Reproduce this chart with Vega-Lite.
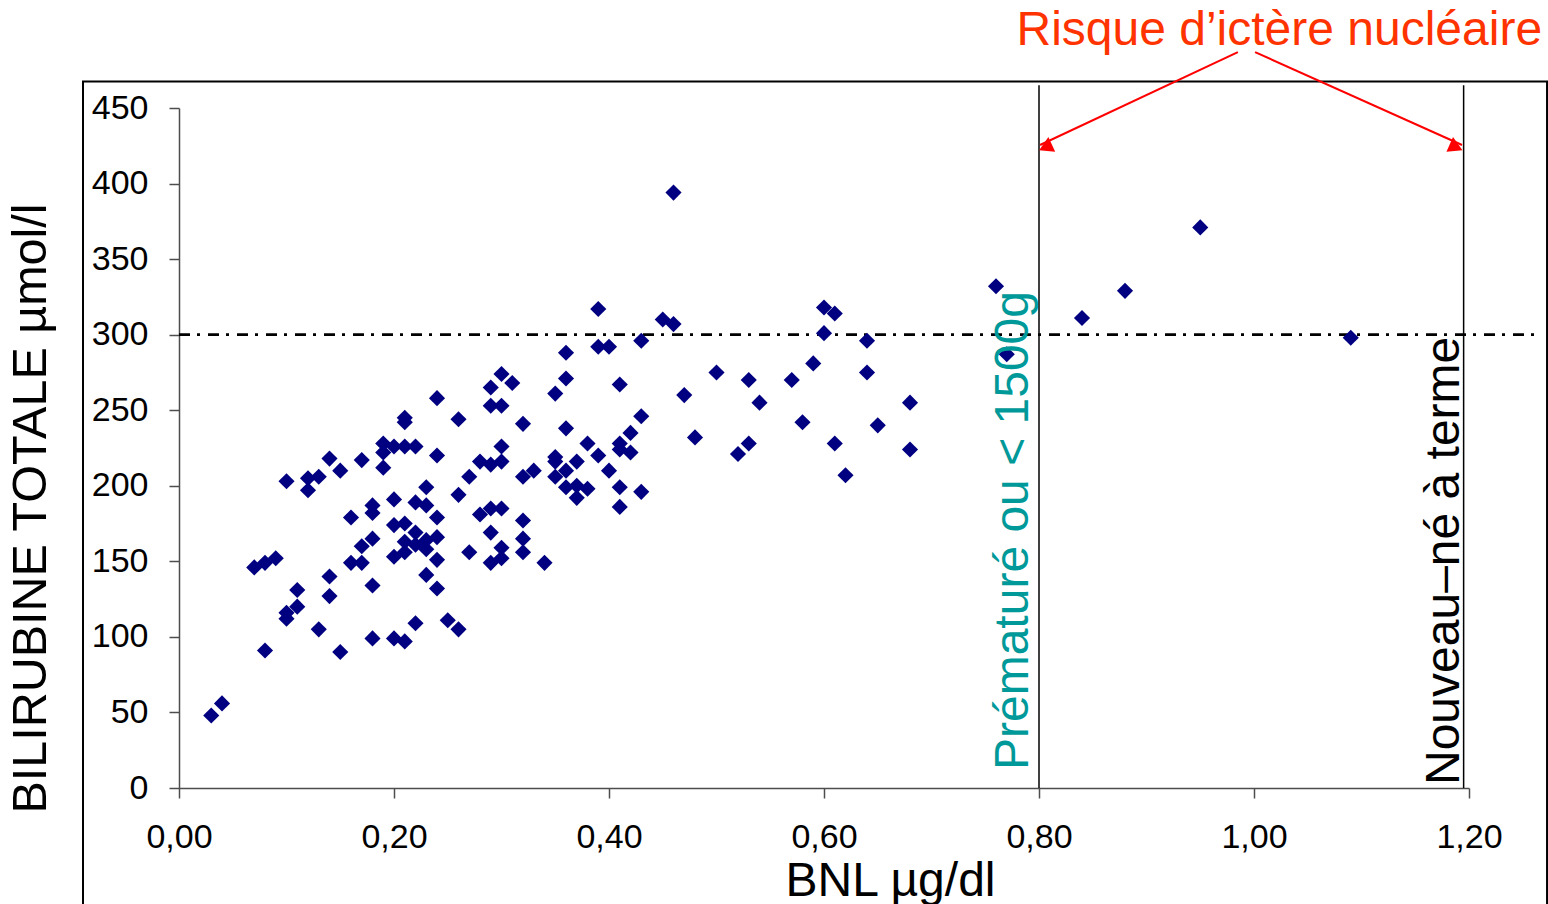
{
  "$schema": "https://vega.github.io/schema/vega-lite/v6.json",
  "width": 1290,
  "height": 680,
  "autosize": {"type": "none"},
  "padding": {"left": 179, "top": 108, "right": 79, "bottom": 116},
  "background": "white",
  "config": {"view": {"stroke": null}, "font": "Liberation Sans"},
  "datasets": {
    "frame": [{"x": -0.0893, "x2": 1.2726, "y": 467.5, "y2": -110}],
    "threshold": [{"x": 0, "x2": 1.266, "y": 300}],
    "limits": [{"x": 0.8, "y": 0, "y2": 465}, {"x": 1.195, "y": 0, "y2": 465}],
    "arrows": [
      {"x": 0.985, "y": 487, "x2": 0.801, "y2": 425.5},
      {"x": 1.001, "y": 487, "x2": 1.1935, "y2": 425.5}
    ],
    "heads": [
      {"x": 0.806, "y": 424, "a": 245},
      {"x": 1.188, "y": 424, "a": 114}
    ],
    "risk": [{"x": 1.268, "y": 492, "label": "Risque d’ictère nucléaire"}],
    "prem": [{"x": 0.8, "y": 0, "label": "Prématuré ou < 1500g"}],
    "term": [{"x": 1.195, "y": 0, "label": "Nouveau–né à terme"}],
    "points": [
      {"x": 0.03, "y": 48}, {"x": 0.04, "y": 56}, {"x": 0.07, "y": 146}, {"x": 0.08, "y": 149},
      {"x": 0.09, "y": 152}, {"x": 0.08, "y": 91}, {"x": 0.10, "y": 203}, {"x": 0.10, "y": 116},
      {"x": 0.10, "y": 112}, {"x": 0.11, "y": 120}, {"x": 0.11, "y": 131}, {"x": 0.12, "y": 205},
      {"x": 0.12, "y": 197}, {"x": 0.13, "y": 206}, {"x": 0.13, "y": 105}, {"x": 0.14, "y": 218},
      {"x": 0.14, "y": 140}, {"x": 0.14, "y": 127}, {"x": 0.15, "y": 210}, {"x": 0.15, "y": 90},
      {"x": 0.16, "y": 179}, {"x": 0.16, "y": 149}, {"x": 0.17, "y": 217}, {"x": 0.17, "y": 160},
      {"x": 0.17, "y": 149}, {"x": 0.18, "y": 187}, {"x": 0.18, "y": 182}, {"x": 0.18, "y": 165},
      {"x": 0.18, "y": 134}, {"x": 0.18, "y": 99}, {"x": 0.19, "y": 228}, {"x": 0.19, "y": 222},
      {"x": 0.19, "y": 212}, {"x": 0.20, "y": 226}, {"x": 0.20, "y": 191}, {"x": 0.20, "y": 174},
      {"x": 0.20, "y": 153}, {"x": 0.20, "y": 99}, {"x": 0.21, "y": 245}, {"x": 0.21, "y": 242},
      {"x": 0.21, "y": 226}, {"x": 0.21, "y": 175}, {"x": 0.21, "y": 163}, {"x": 0.21, "y": 156},
      {"x": 0.21, "y": 97}, {"x": 0.22, "y": 226}, {"x": 0.22, "y": 189}, {"x": 0.22, "y": 169},
      {"x": 0.22, "y": 161}, {"x": 0.22, "y": 109}, {"x": 0.23, "y": 199}, {"x": 0.23, "y": 187},
      {"x": 0.23, "y": 164}, {"x": 0.23, "y": 158}, {"x": 0.23, "y": 141}, {"x": 0.24, "y": 258},
      {"x": 0.24, "y": 220}, {"x": 0.24, "y": 179}, {"x": 0.24, "y": 166}, {"x": 0.24, "y": 151},
      {"x": 0.24, "y": 132}, {"x": 0.25, "y": 111}, {"x": 0.26, "y": 244}, {"x": 0.26, "y": 194},
      {"x": 0.26, "y": 105}, {"x": 0.27, "y": 206}, {"x": 0.27, "y": 156}, {"x": 0.28, "y": 216},
      {"x": 0.28, "y": 181}, {"x": 0.29, "y": 265}, {"x": 0.29, "y": 253}, {"x": 0.29, "y": 214},
      {"x": 0.29, "y": 185}, {"x": 0.29, "y": 169}, {"x": 0.29, "y": 149}, {"x": 0.30, "y": 274},
      {"x": 0.30, "y": 253}, {"x": 0.30, "y": 226}, {"x": 0.30, "y": 216}, {"x": 0.30, "y": 185},
      {"x": 0.30, "y": 159}, {"x": 0.30, "y": 152}, {"x": 0.31, "y": 268}, {"x": 0.32, "y": 241},
      {"x": 0.32, "y": 206}, {"x": 0.32, "y": 177}, {"x": 0.32, "y": 165}, {"x": 0.32, "y": 156},
      {"x": 0.33, "y": 210}, {"x": 0.34, "y": 149}, {"x": 0.35, "y": 261}, {"x": 0.35, "y": 219},
      {"x": 0.35, "y": 216}, {"x": 0.35, "y": 206}, {"x": 0.36, "y": 288}, {"x": 0.36, "y": 271},
      {"x": 0.36, "y": 238}, {"x": 0.36, "y": 210}, {"x": 0.36, "y": 199}, {"x": 0.37, "y": 216},
      {"x": 0.37, "y": 200}, {"x": 0.37, "y": 192}, {"x": 0.38, "y": 228}, {"x": 0.38, "y": 198},
      {"x": 0.39, "y": 317}, {"x": 0.39, "y": 292}, {"x": 0.39, "y": 220}, {"x": 0.40, "y": 292},
      {"x": 0.40, "y": 210}, {"x": 0.41, "y": 267}, {"x": 0.41, "y": 228}, {"x": 0.41, "y": 224},
      {"x": 0.41, "y": 199}, {"x": 0.41, "y": 186}, {"x": 0.42, "y": 235}, {"x": 0.42, "y": 222},
      {"x": 0.43, "y": 296}, {"x": 0.43, "y": 246}, {"x": 0.43, "y": 196}, {"x": 0.45, "y": 310},
      {"x": 0.46, "y": 394}, {"x": 0.46, "y": 307}, {"x": 0.47, "y": 260}, {"x": 0.48, "y": 232},
      {"x": 0.50, "y": 275}, {"x": 0.52, "y": 221}, {"x": 0.53, "y": 270}, {"x": 0.53, "y": 228},
      {"x": 0.54, "y": 255}, {"x": 0.57, "y": 270}, {"x": 0.58, "y": 242}, {"x": 0.59, "y": 281},
      {"x": 0.60, "y": 318}, {"x": 0.60, "y": 301}, {"x": 0.61, "y": 314}, {"x": 0.61, "y": 228},
      {"x": 0.62, "y": 207}, {"x": 0.64, "y": 296}, {"x": 0.64, "y": 275}, {"x": 0.65, "y": 240},
      {"x": 0.68, "y": 255}, {"x": 0.68, "y": 224}, {"x": 0.76, "y": 332}, {"x": 0.77, "y": 287},
      {"x": 0.84, "y": 311}, {"x": 0.88, "y": 329}, {"x": 0.95, "y": 371}, {"x": 1.09, "y": 298}
    ]
  },
  "encoding": {
    "x": {
      "field": "x",
      "type": "quantitative",
      "scale": {"domain": [0, 1.2], "nice": false, "zero": false},
      "axis": {
        "title": "BNL µg/dl",
        "values": [0, 0.2, 0.4, 0.6, 0.8, 1.0, 1.2],
        "labelExpr": "replace(format(datum.value, '.2f'), '.', ',')",
        "labelFontSize": 34,
        "labelColor": "black",
        "labelPadding": 22,
        "labelFlush": false,
        "labelOverlap": false,
        "tickSize": 10,
        "tickColor": "#4d4d4d",
        "tickWidth": 1.5,
        "domainColor": "#4d4d4d",
        "domainWidth": 1.5,
        "grid": false,
        "titleFontSize": 48,
        "titleFontWeight": "normal",
        "titleColor": "black",
        "titleX": 711,
        "titleY": 107,
        "titleAlign": "center",
        "titleBaseline": "alphabetic"
      }
    },
    "y": {
      "field": "y",
      "type": "quantitative",
      "scale": {"domain": [0, 450], "nice": false},
      "axis": {
        "title": "BILIRUBINE TOTALE µmol/l",
        "values": [0, 50, 100, 150, 200, 250, 300, 350, 400, 450],
        "labelFontSize": 34,
        "labelColor": "black",
        "labelPadding": 21,
        "labelFlush": false,
        "labelOverlap": false,
        "tickSize": 10,
        "tickColor": "#4d4d4d",
        "tickWidth": 1.5,
        "domainColor": "#4d4d4d",
        "domainWidth": 1.5,
        "grid": false,
        "titleFontSize": 48.5,
        "titleFontWeight": "normal",
        "titleColor": "black",
        "titleAngle": 270,
        "titleX": -134,
        "titleY": 400,
        "titleAlign": "center",
        "titleBaseline": "alphabetic"
      }
    }
  },
  "layer": [
    {
      "data": {"name": "frame"},
      "mark": {"type": "rect", "filled": false, "stroke": "black", "strokeWidth": 2},
      "encoding": {"x2": {"field": "x2"}, "y2": {"field": "y2"}}
    },
    {
      "data": {"name": "threshold"},
      "mark": {"type": "rule", "color": "black", "strokeWidth": 2.6, "strokeDash": [11, 7, 3, 8]},
      "encoding": {"x2": {"field": "x2"}}
    },
    {
      "data": {"name": "limits"},
      "mark": {"type": "rule", "color": "black", "strokeWidth": 1.5},
      "encoding": {"y2": {"field": "y2"}}
    },
    {
      "data": {"name": "points"},
      "mark": {"type": "point", "shape": "diamond", "filled": true, "color": "#000080", "size": 260, "opacity": 1}
    },
    {
      "data": {"name": "arrows"},
      "mark": {"type": "rule", "color": "#FF0000", "strokeWidth": 2},
      "encoding": {"x2": {"field": "x2"}, "y2": {"field": "y2"}}
    },
    {
      "data": {"name": "heads"},
      "mark": {"type": "point", "shape": "triangle-up", "filled": true, "color": "#FF0000", "size": 260, "opacity": 1},
      "encoding": {"angle": {"field": "a", "type": "quantitative", "scale": null}}
    },
    {
      "data": {"name": "risk"},
      "mark": {"type": "text", "align": "right", "baseline": "alphabetic", "fontSize": 48, "color": "#FF3300"},
      "encoding": {"text": {"field": "label"}}
    },
    {
      "data": {"name": "prem"},
      "mark": {"type": "text", "align": "left", "baseline": "alphabetic", "angle": 270, "dx": 18, "dy": -11, "fontSize": 48, "color": "#009999"},
      "encoding": {"text": {"field": "label"}}
    },
    {
      "data": {"name": "term"},
      "mark": {"type": "text", "align": "left", "baseline": "alphabetic", "angle": 270, "dx": 3, "dy": -5, "fontSize": 48, "color": "black"},
      "encoding": {"text": {"field": "label"}}
    }
  ]
}
